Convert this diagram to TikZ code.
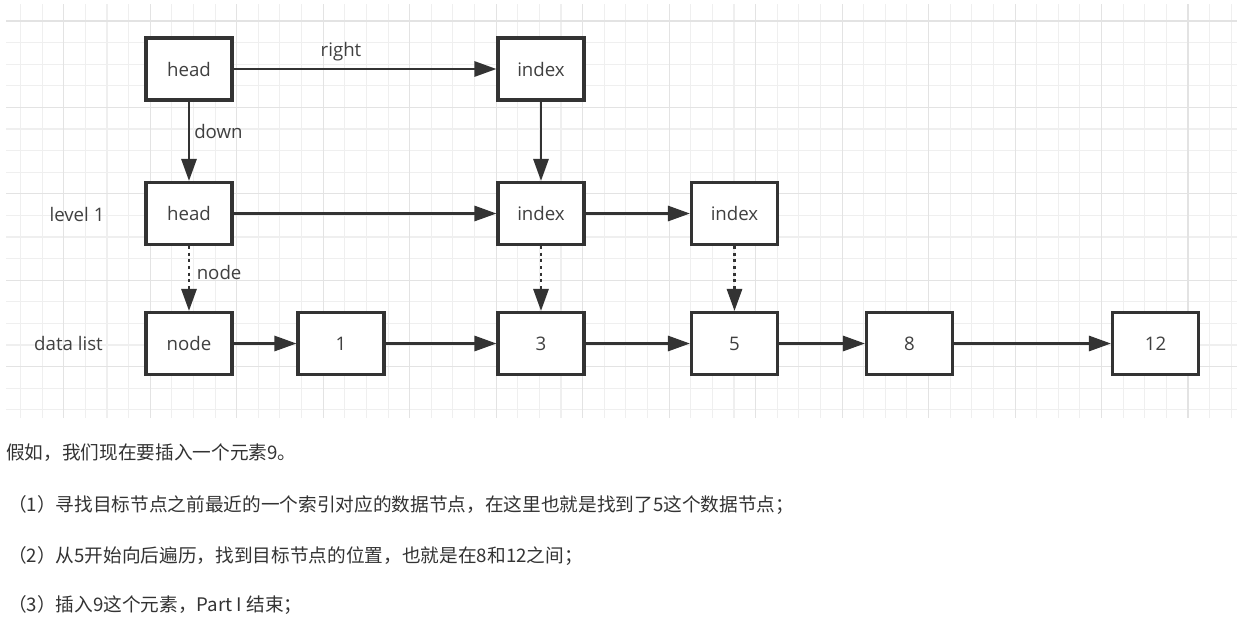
\documentclass[tikz,border=0pt]{standalone}
\usepackage{fontspec}
\setmainfont{Open Sans}
\newfontfamily\cjk{Noto Sans CJK SC}
\usetikzlibrary{arrows.meta}
\definecolor{linegray}{HTML}{333333}
\definecolor{textgray}{HTML}{404040}
\definecolor{gridminor}{HTML}{EFEFEF}
\definecolor{gridmajor}{HTML}{E3E3E3}
\begin{document}
\begin{tikzpicture}[x=0.75pt,y=-0.75pt]
  \tikzstyle{block}=[draw=linegray,line width=2.3pt,fill=white,minimum width=64.5pt,minimum height=46.5pt,inner sep=0pt,text=textgray,font=\fontsize{14}{16}\selectfont]
  \tikzstyle{tag}=[text=textgray,inner sep=0pt,font=\fontsize{14}{16}\selectfont]
  \tikzstyle{link}=[draw=linegray,line width=2.1pt,-{Triangle[length=16.5pt,width=11.25pt]}]
  \tikzstyle{weak}=[link,dash pattern=on 2.2pt off 2.8pt]
  \tikzstyle{para}=[anchor=west,inner sep=0pt,text=linegray,font=\cjk\fontsize{14}{17}\selectfont]
  \fill[white] (0,0) rectangle (1237,626);
  \useasboundingbox (0,0) rectangle (1237,626);
  % grid
  \foreach \i in {0,...,56} \draw[gridminor,line width=0.8pt] (20.5+21.62*\i,4) -- (20.5+21.62*\i,418);
  \foreach \j in {0,...,18} \draw[gridminor,line width=0.8pt] (6,21+21.6*\j) -- (1237,21+21.6*\j);
  \foreach \i in {2,6,...,54} \draw[gridmajor,line width=0.8pt] (20.5+21.62*\i,4) -- (20.5+21.62*\i,418);
  \foreach \j in {0,4,...,16} \draw[gridmajor,line width=0.8pt] (6,21+21.6*\j) -- (1237,21+21.6*\j);
  % top level
  \node[block] (headtop)  at (189,69)    {head};
  \node[block] (indextop) at (541,69)    {index};
  % level 1
  \node[block] (headone)  at (189,213.5) {head};
  \node[block] (indexone) at (541,213.5) {index};
  \node[block] (indextwo) at (734.5,213.5) {index};
  % data list
  \node[block] (datanode) at (189,343.5)   {node};
  \node[block] (data1)    at (341,343.5)   {1};
  \node[block] (data3)    at (541,343.5)   {3};
  \node[block] (data5)    at (734.5,343.5) {5};
  \node[block] (data8)    at (909.5,343.5) {8};
  \node[block] (data12)   at (1155.5,343.5) {12};
  % labels
  \node[tag] (levellabel) at (77,214)  {level 1};
  \node[tag] (datalabel)  at (68.5,343) {data list};
  \node[tag] (rightlabel) at (341,51.5) {right};
  \node[tag,anchor=west] (downlabel) at (194,131.5) {down};
  \node[tag,anchor=west] (nodelabel) at (196.5,272) {node};
  % links
  \draw[link] (headtop) -- (indextop);
  \draw[link] (headtop) -- (headone);
  \draw[link] (indextop) -- (indexone);
  \draw[link] (headone) -- (indexone);
  \draw[link] (indexone) -- (indextwo);
  \draw[weak] (headone) -- (datanode);
  \draw[weak] (indexone) -- (data3);
  \draw[weak] (indextwo) -- (data5);
  \draw[link] (datanode) -- (data1);
  \draw[link] (data1) -- (data3);
  \draw[link] (data3) -- (data5);
  \draw[link] (data5) -- (data8);
  \draw[link] (data8) -- (data12);
  % text
  \node[para] (lineone)   at (6,453) {假如，我们现在要插入一个元素9。};
  \node[para] (linetwo)   at (8,505) {（1）寻找目标节点之前最近的一个索引对应的数据节点，在这里也就是找到了5这个数据节点；};
  \node[para] (linethree) at (8,556) {（2）从5开始向后遍历，找到目标节点的位置，也就是在8和12之间；};
  \node[para] (linefour)  at (8,605) {（3）插入9这个元素，Part I 结束；};
\end{tikzpicture}
\end{document}
